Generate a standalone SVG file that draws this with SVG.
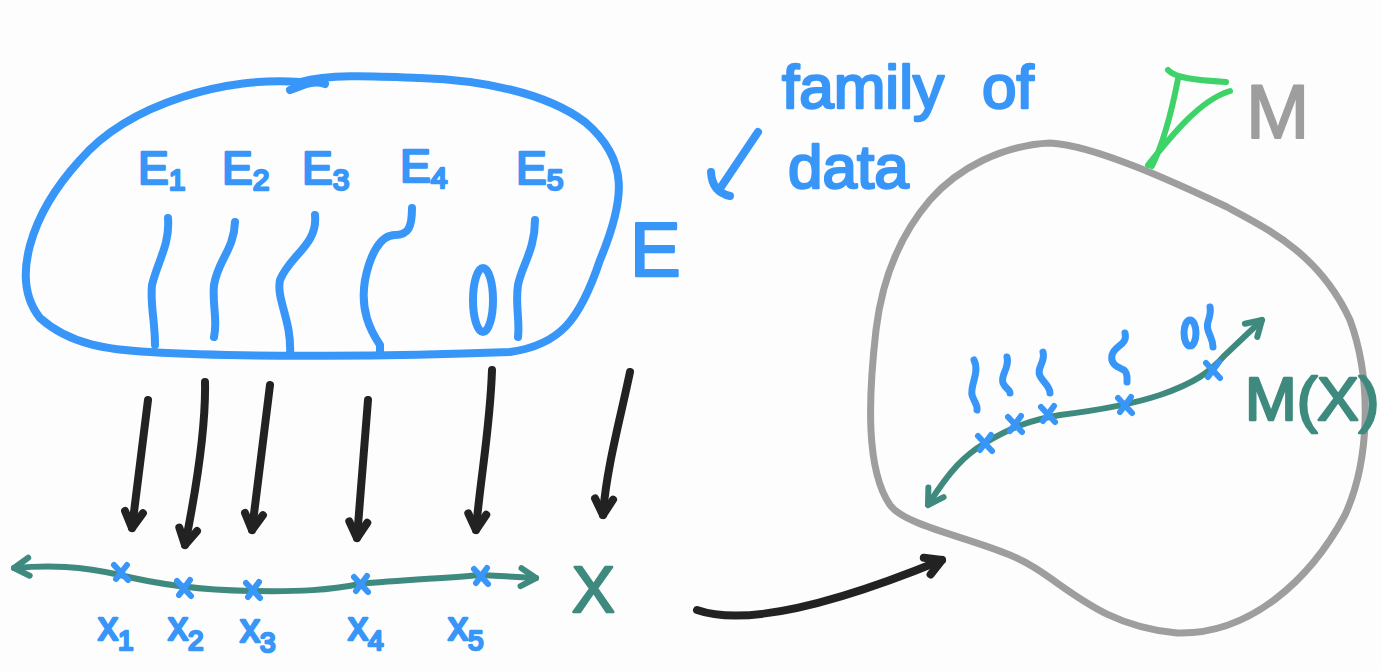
<svg xmlns="http://www.w3.org/2000/svg" width="1381" height="671" viewBox="0 0 1381 671">
<defs>
<marker id="hb" markerUnits="userSpaceOnUse" orient="auto" markerWidth="40" markerHeight="40" refX="0" refY="0" viewBox="-20 -20 40 40" overflow="visible">
<path d="M -16,-9 L 0,0 L -16,9" fill="none" stroke="#222" stroke-width="8" stroke-linecap="round" stroke-linejoin="round"/>
</marker>
<marker id="ht" markerUnits="userSpaceOnUse" orient="auto-start-reverse" markerWidth="40" markerHeight="40" refX="0" refY="0" viewBox="-20 -20 40 40" overflow="visible">
<path d="M -15,-9 L 0,0 L -15,9" fill="none" stroke="#3f8a7e" stroke-width="6" stroke-linecap="round" stroke-linejoin="round"/>
</marker>
</defs>
<style>
.blue{fill:none;stroke:#3896f8;stroke-width:8;stroke-linecap:round;stroke-linejoin:round}
.blk{fill:none;stroke:#222;stroke-width:8;stroke-linecap:round}
.teal{fill:none;stroke:#3f8a7e;stroke-width:6;stroke-linecap:round}
.gray{fill:none;stroke:#9e9e9e;stroke-width:7;stroke-linejoin:round}
.green{fill:none;stroke:#3dd368;stroke-width:6;stroke-linecap:round}
.xm{fill:none;stroke:#3896f8;stroke-width:6;stroke-linecap:round}
.tb{font-family:"Liberation Sans",Arial,sans-serif;fill:#3896f8;stroke:#3896f8;stroke-width:2.5;stroke-linejoin:round}
.tt{font-family:"Liberation Sans",Arial,sans-serif;fill:#3f8a7e;stroke:#3f8a7e;stroke-width:2.5;stroke-linejoin:round}
.tg{font-family:"Liberation Sans",Arial,sans-serif;fill:#9e9e9e;stroke:#9e9e9e;stroke-width:2;stroke-linejoin:round}
</style>
<rect width="1381" height="671" fill="#fdfdfd"/>

<g id="E-blob">
<path class="blue" d="M 300,82 C 230,76 130,102 80,160 C 30,215 10,280 40,318 C 70,345 110,350 150,352 C 250,358 400,356 510,352 C 560,345 580,320 600,260 C 625,200 630,160 585,122 C 545,92 480,80 420,78 C 370,76 330,74 300,82"/>
<path class="blue" d="M 290,90 C 305,84 315,80 325,84"/>
<path class="blue" d="M 168,218 C 170,245 158,260 152,285 C 150,305 155,320 155,345"/>
<path class="blue" d="M 235,222 C 234,250 218,260 214,285 C 212,305 218,320 214,337"/>
<path class="blue" d="M 315,215 C 318,245 290,255 280,280 C 276,300 292,320 290,355"/>
<path class="blue" d="M 412,208 C 412,228 408,235 395,235 C 380,235 370,255 365,280 C 360,310 370,330 380,345 L 380,355"/>
<path class="blue" d="M 535,220 C 535,250 522,265 518,285 C 515,305 520,320 518,337"/>
<ellipse class="blue" cx="483" cy="300" rx="10" ry="32"/>
<text class="tb" x="138" y="184" font-size="46">E<tspan font-size="30" dy="6">1</tspan></text>
<text class="tb" x="222" y="184" font-size="46">E<tspan font-size="30" dy="6">2</tspan></text>
<text class="tb" x="302" y="184" font-size="46">E<tspan font-size="30" dy="6">3</tspan></text>
<text class="tb" x="400" y="182" font-size="46">E<tspan font-size="30" dy="6">4</tspan></text>
<text class="tb" x="516" y="184" font-size="46">E<tspan font-size="30" dy="6">5</tspan></text>
<text class="tb" x="630" y="276" font-size="76">E</text>
</g>

<g id="family-label">
<text class="tb" x="782" y="108" font-size="62">family<tspan x="982">of</tspan></text>
<text class="tb" x="788" y="188" font-size="62">data</text>
<path class="blue" d="M 758,132 L 719,190 M 711,172 Q 712,192 730,196"/>
</g>

<g id="X-axis">
<path class="teal" marker-start="url(#ht)" marker-end="url(#ht)" d="M 14,568 C 50,565 80,566 120,575 C 160,585 200,590 250,591 C 300,592 330,590 360,584 C 400,580 450,578 480,575 L 536,578"/>
<g class="xm">
<path d="M 114,565 L 128,580 M 127,565 L 116,579"/>
<path d="M 177,581 L 191,596 M 190,580 L 179,595"/>
<path d="M 246,583 L 260,598 M 259,582 L 248,597"/>
<path d="M 354,577 L 368,592 M 367,576 L 356,591"/>
<path d="M 474,569 L 488,584 M 487,568 L 476,583"/>
</g>
<text class="tb" x="98" y="640" font-size="40">x<tspan font-size="28" dy="10">1</tspan></text>
<text class="tb" x="168" y="640" font-size="40">x<tspan font-size="28" dy="10">2</tspan></text>
<text class="tb" x="240" y="642" font-size="40">x<tspan font-size="28" dy="10">3</tspan></text>
<text class="tb" x="348" y="640" font-size="40">x<tspan font-size="28" dy="10">4</tspan></text>
<text class="tb" x="448" y="640" font-size="40">x<tspan font-size="28" dy="10">5</tspan></text>
<text class="tt" x="572" y="612" font-size="64">X</text>
</g>

<g id="M-blob">
<path class="gray" d="M 1050,143 C 1003,145 958,168 930,200 C 900,235 882,280 876,330 C 868,400 866,470 890,505 C 905,525 960,535 1010,555 C 1060,575 1090,625 1177,633 C 1250,635 1310,580 1345,515 C 1370,460 1372,380 1350,320 C 1320,255 1270,230 1227,207 C 1180,185 1095,145 1050,143 Z"/>
<path class="green" d="M 1168,70 C 1175,78 1195,80 1226,82 M 1230,91 C 1200,100 1172,135 1148,165 M 1178,79 C 1172,110 1165,140 1152,166"/>
<text class="tg" x="1246" y="138" font-size="76">M</text>
</g>

<g id="MX-curve">
<path class="teal" marker-start="url(#ht)" marker-end="url(#ht)" d="M 928,505 C 950,470 965,455 985,443 C 1010,428 1030,420 1060,415 C 1100,410 1130,405 1160,395 C 1195,383 1210,372 1225,355 L 1262,320"/>
<g class="xm">
<path d="M 978,436 L 992,451 M 991,435 L 980,450"/>
<path d="M 1008,417 L 1022,432 M 1021,416 L 1010,431"/>
<path d="M 1041,407 L 1055,422 M 1054,406 L 1043,421"/>
<path d="M 1118,398 L 1132,413 M 1131,397 L 1120,412"/>
<path d="M 1206,363 L 1220,378 M 1219,362 L 1208,377"/>
</g>
<g class="blue" style="stroke-width:7">
<path d="M 974,360 C 980,372 970,385 972,395 C 974,402 978,405 977,410"/>
<path d="M 1007,357 C 1010,368 1000,375 1003,383 C 1005,388 1010,390 1010,393"/>
<path d="M 1043,352 C 1046,362 1036,368 1040,376 C 1043,382 1050,386 1050,393"/>
<path d="M 1125,333 C 1128,345 1115,345 1112,355 C 1110,365 1118,367 1124,370 C 1128,373 1127,378 1127,382"/>
<path d="M 1210,307 C 1212,318 1205,322 1208,330 C 1210,337 1213,340 1213,347"/>
<ellipse cx="1190" cy="333" rx="6" ry="13"/>
</g>
<text class="tt" x="1245" y="420" font-size="62">M(X)</text>
</g>

<g id="connectors">
<path class="blk" marker-end="url(#hb)" d="M 148,400 L 132,528"/>
<path class="blk" marker-end="url(#hb)" d="M 205,382 C 206,430 196,490 185,545"/>
<path class="blk" marker-end="url(#hb)" d="M 270,385 L 252,530"/>
<path class="blk" marker-end="url(#hb)" d="M 368,400 L 357,538"/>
<path class="blk" marker-end="url(#hb)" d="M 492,370 C 490,430 480,480 476,530"/>
<path class="blk" marker-end="url(#hb)" d="M 630,372 C 620,420 606,470 603,515"/>
<path class="blk" marker-end="url(#hb)" d="M 697,610 C 740,625 820,610 942,560"/>
</g>
</svg>
